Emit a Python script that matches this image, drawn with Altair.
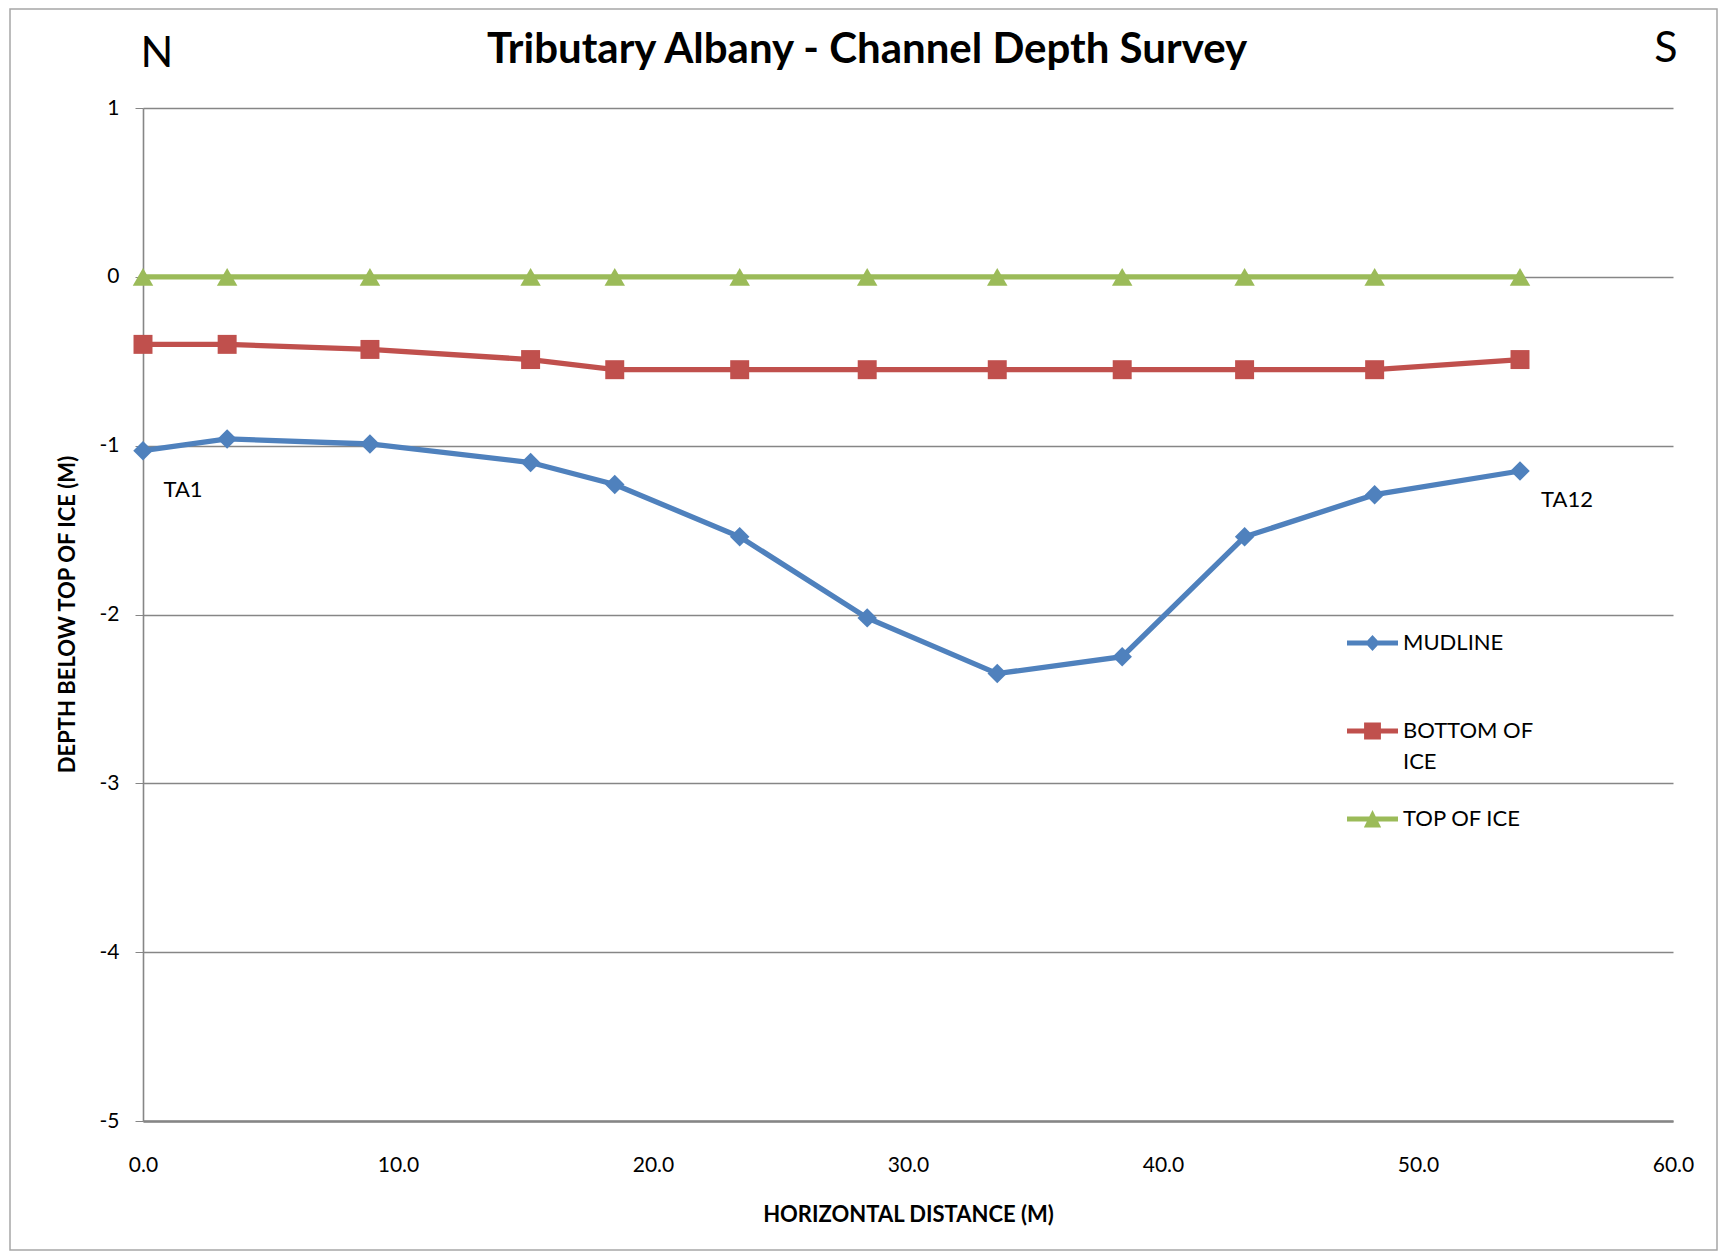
import altair as alt
import pandas as pd

# ---- data ----
distance = [0.0, 3.3, 8.9, 15.2, 18.5, 23.4, 28.4, 33.5, 38.4, 43.2, 48.3, 54.0]
mudline = [-1.03, -0.96, -0.99, -1.10, -1.23, -1.54, -2.02, -2.35, -2.25, -1.54, -1.29, -1.15]
bottom_of_ice = [-0.40, -0.40, -0.43, -0.49, -0.55, -0.55, -0.55, -0.55, -0.55, -0.55, -0.55, -0.49]
top_of_ice = [0.0, 0.0, 0.0, 0.0, 0.0, 0.0, 0.0, 0.0, 0.0, 0.0, 0.0, 0.0]

series_names = ["MUDLINE", "BOTTOM OF ICE", "TOP OF ICE"]
series_colors = ["#4F81BD", "#C0504D", "#9BBB59"]
series_shapes = ["diamond", "square", "triangle-up"]
series_sizes = [380, 360, 420]
legend_label_exprs = ["datum.label", "['BOTTOM OF', 'ICE']", "datum.label"]

station_labels = ["TA1", "TA12"]
station_distance = [0.0, 54.0]
station_depth = [-1.03, -1.15]

chart_title = "Tributary Albany - Channel Depth Survey"
x_title = "HORIZONTAL DISTANCE (M)"
y_title = "DEPTH BELOW TOP OF ICE (M)"

x_ticks = [0, 10, 20, 30, 40, 50, 60]
y_ticks = [1, 0, -1, -2, -3, -4, -5]

FONT = "Lato"

# legend symbols: line segment + marker (unit square -1..1)
line_path = "M-1,-0.1L1,-0.1L1,0.1L-1,0.1Z"
legend_symbols = [
    line_path + "M0,-0.31L0.29,0L0,0.31L-0.29,0Z",
    line_path + "M-0.33,-0.33L0.33,-0.33L0.33,0.33L-0.33,0.33Z",
    line_path + "M0,-0.35L0.34,0.33L-0.34,0.33Z",
]
legend_y = [509.5, 597.5, 685.5]

rows = []
for name, vals in zip(series_names, [mudline, bottom_of_ice, top_of_ice]):
    for d, v in zip(distance, vals):
        rows.append({"series": name, "distance": d, "depth": v})
df = pd.DataFrame(rows)

labels_df = pd.DataFrame({"label": station_labels, "distance": station_distance, "depth": station_depth})


def build():
    x_enc = alt.X("distance:Q", scale=alt.Scale(domain=[0, 60], nice=False, zero=False),
                  axis=alt.Axis(values=x_ticks, format=".1f", grid=False, ticks=False,
                                labelFlush=False, labelPadding=33, title=x_title,
                                titlePadding=29, domainColor="#868686", domainWidth=2.5))
    y_enc = alt.Y("depth:Q", scale=alt.Scale(domain=[-5, 1], nice=False, zero=False),
                  axis=alt.Axis(values=y_ticks, labelExpr="'' + datum.value", grid=True,
                                gridColor="#868686", gridWidth=1.4, tickSize=8,
                                tickColor="#868686", labelFlush=False, labelPadding=16,
                                domainColor="#868686", domainWidth=1.6, title=y_title,
                                titleX=-76, titleY=506, titleAngle=-90,
                                titleBaseline="middle", titleAlign="center"))

    layers = []
    # outer chart frame
    layers.append(alt.Chart(pd.DataFrame({"f": [0]})).mark_rect(
        fill="transparent", stroke="#A6A6A6", strokeWidth=1.5
    ).encode(x=alt.value(-133), x2=alt.value(1574), y=alt.value(-99), y2=alt.value(1142)))

    for i, name in enumerate(series_names):
        sub = alt.Chart(df).transform_filter(alt.datum.series == name)
        layers.append(sub.mark_line(strokeWidth=5.3, color=series_colors[i]).encode(x=x_enc, y=y_enc))
    for i, name in enumerate(series_names):
        sub = alt.Chart(df).transform_filter(alt.datum.series == name)
        leg = alt.Legend(
            title=None, orient="none", legendX=1204, legendY=legend_y[i], padding=0,
            symbolType=legend_symbols[i], symbolSize=2601, symbolStrokeWidth=0,
            symbolOpacity=1, labelFont=FONT, labelFontSize=22, labelColor="black",
            labelBaseline="middle", labelOffset=5, labelLimit=0,
            labelExpr=legend_label_exprs[i],
        )
        layers.append(sub.mark_point(filled=True, size=series_sizes[i], opacity=1,
                                     shape=series_shapes[i]).encode(
            x=x_enc, y=y_enc,
            color=alt.Color("series:N", scale=alt.Scale(domain=[name], range=[series_colors[i]]),
                            legend=leg),
        ))

    offsets = {"TA1": (40, 39), "TA12": (47, 29)}
    for lab in station_labels:
        ddx, ddy = offsets[lab]
        layers.append(alt.Chart(labels_df).transform_filter(alt.datum.label == lab).mark_text(
            font=FONT, fontSize=22, color="black", align="center", baseline="middle",
            dx=ddx, dy=ddy,
        ).encode(x="distance:Q", y="depth:Q", text="label:N"))

    texts = pd.DataFrame({"t": [chart_title]})
    layers.append(alt.Chart(texts).mark_text(
        font=FONT, fontSize=42, fontWeight="bold", color="black", align="center",
        baseline="alphabetic"
    ).encode(x=alt.value(724), y=alt.value(-45), text="t:N"))

    layers.append(alt.Chart(pd.DataFrame({"t": ["N"]})).mark_text(
        font=FONT, fontSize=43, color="black", align="center", baseline="alphabetic"
    ).encode(x=alt.value(14), y=alt.value(-41), text="t:N"))
    layers.append(alt.Chart(pd.DataFrame({"t": ["S"]})).mark_text(
        font=FONT, fontSize=43, color="black", align="center", baseline="alphabetic"
    ).encode(x=alt.value(1523), y=alt.value(-46), text="t:N"))

    return alt.layer(*layers).resolve_scale(color="independent").properties(
        width=1530, height=1013,
        autosize=alt.AutoSizeParams(type="none"),
        padding={"left": 135, "top": 100, "right": 46, "bottom": 130},
    ).configure(
        style={"guide-label": {"lineHeight": 31}}
    ).configure_view(stroke=None).configure_axis(
        labelFont=FONT, labelFontSize=21, labelColor="black",
        titleFont=FONT, titleFontSize=22, titleFontWeight="bold", titleColor="black",
    )


try:
    chart = build()
    chart.to_dict()
except Exception as e:
    msg = str(e).replace("\n", " | ")[:900]
    parts = [msg[i:i + 150] for i in range(0, len(msg), 150)]
    dbg = pd.DataFrame({"t": parts, "i": list(range(len(parts)))})
    chart = alt.Chart(dbg).mark_text(align="left", fontSize=14).encode(
        y=alt.Y("i:O", axis=None), text="t:N", x=alt.value(0)
    ).properties(width=1500, height=400)

chart.save("out.html", embed_options={"renderer": "svg", "actions": False})
